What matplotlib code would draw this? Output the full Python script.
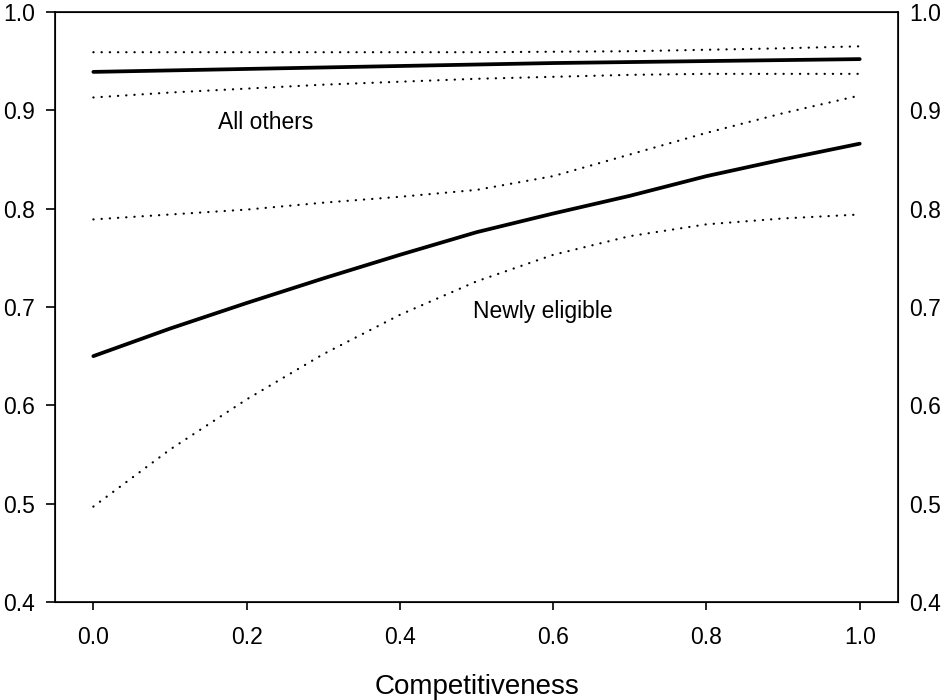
import matplotlib
matplotlib.use("Agg")
import matplotlib.pyplot as plt
import numpy as np

plt.rcParams['font.family'] = ['Liberation Sans', 'DejaVu Sans']

# competitiveness grid
comp = [0.0, 0.1, 0.2, 0.3, 0.4, 0.5, 0.6, 0.7, 0.8, 0.9, 1.0]

# all others: estimate with upper / lower bands
others = [0.939, 0.9405, 0.942, 0.9435, 0.945, 0.9465, 0.948, 0.949, 0.950, 0.951, 0.952]
others_hi = [0.959, 0.959, 0.959, 0.959, 0.959, 0.959, 0.9595, 0.960, 0.9615, 0.963, 0.965]
others_lo = [0.913, 0.918, 0.922, 0.926, 0.929, 0.932, 0.934, 0.936, 0.937, 0.937, 0.937]

# newly eligible
newly = [0.650, 0.678, 0.704, 0.729, 0.753, 0.776, 0.795, 0.813, 0.833, 0.850, 0.866]
newly_hi = [0.789, 0.794, 0.799, 0.806, 0.812, 0.819, 0.833, 0.855, 0.877, 0.897, 0.915]
newly_lo = [0.497, 0.555, 0.606, 0.652, 0.692, 0.726, 0.753, 0.772, 0.784, 0.790, 0.794]

xticks = [0.0, 0.2, 0.4, 0.6, 0.8, 1.0]
yticks = [0.4, 0.5, 0.6, 0.7, 0.8, 0.9, 1.0]
ylabels = [f"{v:.1f}" for v in yticks]

fig = plt.figure(figsize=(9.44, 7), dpi=100)
ax = fig.add_axes([0.0583, 0.14, 0.893, 0.843])

dots = (0, (0.1, 3.6))
for y in (others, newly):
    ax.plot(comp, y, color='black', linewidth=2.7, solid_capstyle='round')
for y in (others_hi, others_lo, newly_hi, newly_lo):
    ax.plot(comp, y, color='black', linewidth=1.6, linestyle=dots,
            dash_capstyle='round')

ax.text(0.225, 0.888, "All others", fontsize=16.5, ha='center', va='center')
ax.text(0.586, 0.695, "Newly eligible", fontsize=16.5, ha='center', va='center')

ax.set_xlim(-0.05, 1.05)
ax.set_ylim(0.4, 1.0)
ax.set_xticks(xticks)
ax.set_xticklabels([f"{v:.1f}" for v in xticks])
ax.set_yticks(yticks)
ax.set_yticklabels(ylabels)

ax.tick_params(axis='x', direction='out', length=6, width=1.2, pad=11, labelsize=16.5)
ax.tick_params(axis='y', direction='out', length=6.5, width=1.2, pad=8, labelsize=16.5)
for sp in ax.spines.values():
    sp.set_linewidth(1.2)

# right-hand labels, no tick marks
ax2 = ax.twinx()
ax2.set_ylim(0.4, 1.0)
ax2.set_yticks(yticks)
ax2.set_yticklabels(ylabels)
ax2.tick_params(axis='y', length=0, pad=8, labelsize=16.5)

ax.set_xlabel("Competitiveness", fontsize=20, labelpad=18)

fig.savefig("out.png", dpi=100)
